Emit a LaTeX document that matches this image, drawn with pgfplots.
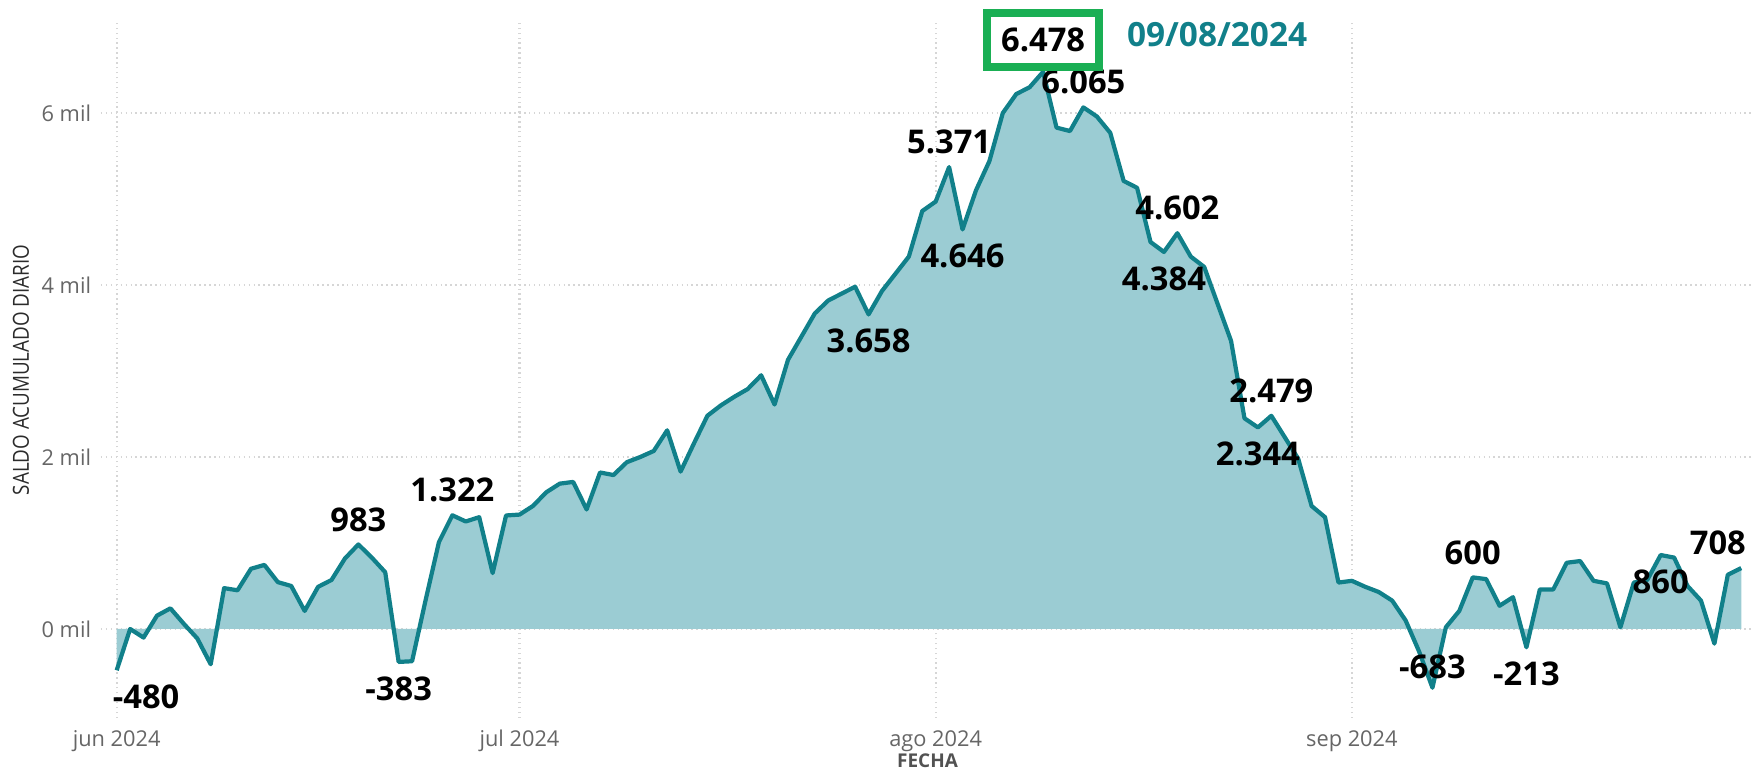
\documentclass[border=0pt]{standalone}
\usepackage{pgfplots}
\usepackage{pgfplotstable}
\pgfplotsset{compat=1.18}
\usepackage{fontspec}
\setmainfont{Open Sans}
\newfontfamily\condfont[FakeStretch=0.85]{Open Sans}
\definecolor{lineteal}{HTML}{11808A}
\definecolor{fillteal}{HTML}{9BCCD3}
\definecolor{boxgreen}{HTML}{1AAF54}
\definecolor{tickgray}{HTML}{666666}
\definecolor{titlegray}{HTML}{2B2B2B}
\newcommand\labfont{\bfseries\fontsize{9.3}{10}\selectfont}

% day index (0 = 1 jun 2024), saldo in miles
\pgfplotstableread{
d v
0 -0.480
1 0.00
2 -0.10
3 0.155
4 0.24
5 0.06
6 -0.11
7 -0.41
8 0.475
9 0.45
10 0.70
11 0.745
12 0.545
13 0.50
14 0.21
15 0.49
16 0.57
17 0.82
18 0.983
19 0.83
20 0.66
21 -0.383
22 -0.375
23 0.33
24 1.01
25 1.322
26 1.25
27 1.30
28 0.65
29 1.32
30 1.33
31 1.43
32 1.59
33 1.69
34 1.71
35 1.39
36 1.82
37 1.79
38 1.94
39 2.00
40 2.07
41 2.31
42 1.83
43 2.16
44 2.48
45 2.60
46 2.70
47 2.79
48 2.95
49 2.61
50 3.13
51 3.40
52 3.67
53 3.82
54 3.90
55 3.98
56 3.658
57 3.93
58 4.13
59 4.33
60 4.86
61 4.97
62 5.371
63 4.646
64 5.10
65 5.44
66 6.00
67 6.22
68 6.30
69 6.478
70 5.83
71 5.79
72 6.065
73 5.96
74 5.77
75 5.21
76 5.13
77 4.50
78 4.384
79 4.602
80 4.33
81 4.21
82 3.78
83 3.35
84 2.45
85 2.344
86 2.479
87 2.23
88 1.98
89 1.43
90 1.30
91 0.54
92 0.56
93 0.49
94 0.43
95 0.33
96 0.10
97 -0.26
98 -0.683
99 0.02
100 0.21
101 0.600
102 0.58
103 0.27
104 0.37
105 -0.213
106 0.46
107 0.46
108 0.77
109 0.79
110 0.56
111 0.53
112 0.02
113 0.54
114 0.57
115 0.860
116 0.83
117 0.50
118 0.33
119 -0.17
120 0.63
121 0.708
}\saldo

\pgfplotstableread{
d v lab
18 0.983 983
25 1.322 1.322
62 5.371 5.371
72 6.065 6.065
79 4.602 4.602
86 2.479 2.479
101 0.600 600
}\abovetab

\pgfplotstableread{
d v lab
21 -0.383 -383
56 3.658 3.658
63 4.646 4.646
78 4.384 4.384
85 2.344 2.344
105 -0.213 -213
115 0.860 860
}\belowtab

\pgfplotstableread{
d v lab
0 -0.480 -480
}\firsttab

\pgfplotstableread{
d v lab
98 -0.683 -683
}\mintab

\pgfplotstableread{
d v lab
69 6.478 6.478
}\peaktab

\pgfplotstableread{
d v lab
121 0.708 708
}\lasttab

\begin{document}
\begin{tikzpicture}
\begin{axis}[
  scale only axis,
  width=16.53cm, height=6.96cm,
  xmin=-1.17, xmax=121.95,
  ymin=-1.035, ymax=7.058,
  axis line style={draw=none},
  major tick length=0pt,
  xtick={0,30,61,92},
  xticklabels={jun 2024,jul 2024,ago 2024,sep 2024},
  ytick={0,2,4,6},
  yticklabels={0 mil,2 mil,4 mil,6 mil},
  grid=major,
  major grid style={densely dotted, black!16, line width=0.6pt},
  tick label style={font=\fontsize{6.2}{7}\selectfont, text=tickgray},
  yticklabel style={xshift=0.7pt},
  xlabel={FECHA},
  ylabel={SALDO ACUMULADO DIARIO},
  xlabel style={font=\bfseries\fontsize{5.4}{6}\selectfont, text=tickgray!80!black,
    at={(axis description cs:0.5,0)}, anchor=center, yshift=-0.43cm},
  ylabel style={font=\condfont\fontsize{6.3}{7}\selectfont, text=titlegray,
    at={(axis description cs:0,0.5)}, anchor=center, yshift=0.80cm},
  clip=false,
]
\addplot[fill=fillteal, draw=none] table[x=d,y=v]{\saldo} \closedcycle;
\addplot[lineteal, line width=1.2pt, line join=round] table[x=d,y=v]{\saldo};

\addplot[draw=none, mark=none, nodes near coords, point meta=explicit symbolic,
  every node near coord/.append style={anchor=south, font=\labfont, text=black, inner sep=1pt, yshift=2.5pt}]
  table[x=d,y=v,meta=lab]{\abovetab};
\addplot[draw=none, mark=none, nodes near coords, point meta=explicit symbolic,
  every node near coord/.append style={anchor=north, font=\labfont, text=black, inner sep=1pt, yshift=-3pt}]
  table[x=d,y=v,meta=lab]{\belowtab};
\addplot[draw=none, mark=none, nodes near coords, point meta=explicit symbolic,
  every node near coord/.append style={anchor=north west, font=\labfont, text=black, inner sep=1pt, yshift=-3pt, xshift=-2.3pt}]
  table[x=d,y=v,meta=lab]{\firsttab};
\addplot[draw=none, mark=none, nodes near coords, point meta=explicit symbolic,
  every node near coord/.append style={anchor=center, font=\labfont, text=black, inner sep=1pt, yshift=6pt}]
  table[x=d,y=v,meta=lab]{\mintab};
\addplot[draw=none, mark=none, nodes near coords, point meta=explicit symbolic,
  every node near coord/.append style={anchor=south, font=\labfont, text=black, draw=boxgreen,
    line width=2.3pt, minimum width=32pt, minimum height=15.3pt, inner sep=0pt, yshift=0.2pt}]
  table[x=d,y=v,meta=lab]{\peaktab};
\addplot[draw=none, mark=none, nodes near coords, point meta=explicit symbolic,
  every node near coord/.append style={anchor=south east, font=\labfont, text=black, inner sep=1pt, yshift=2.5pt, xshift=2.5pt}]
  table[x=d,y=v,meta=lab]{\lasttab};

\node[anchor=west, font=\bfseries\fontsize{9.5}{10}\selectfont, text=lineteal, inner sep=0pt]
  at (axis cs:75.2,6.907) {09/08/2024};
\end{axis}
\pgfresetboundingbox
\path[use as bounding box] ([shift={(-1.01cm,-0.53cm)}]current axis.south west)
  rectangle ([shift={(0cm,0.22cm)}]current axis.north east);
\end{tikzpicture}
\end{document}
